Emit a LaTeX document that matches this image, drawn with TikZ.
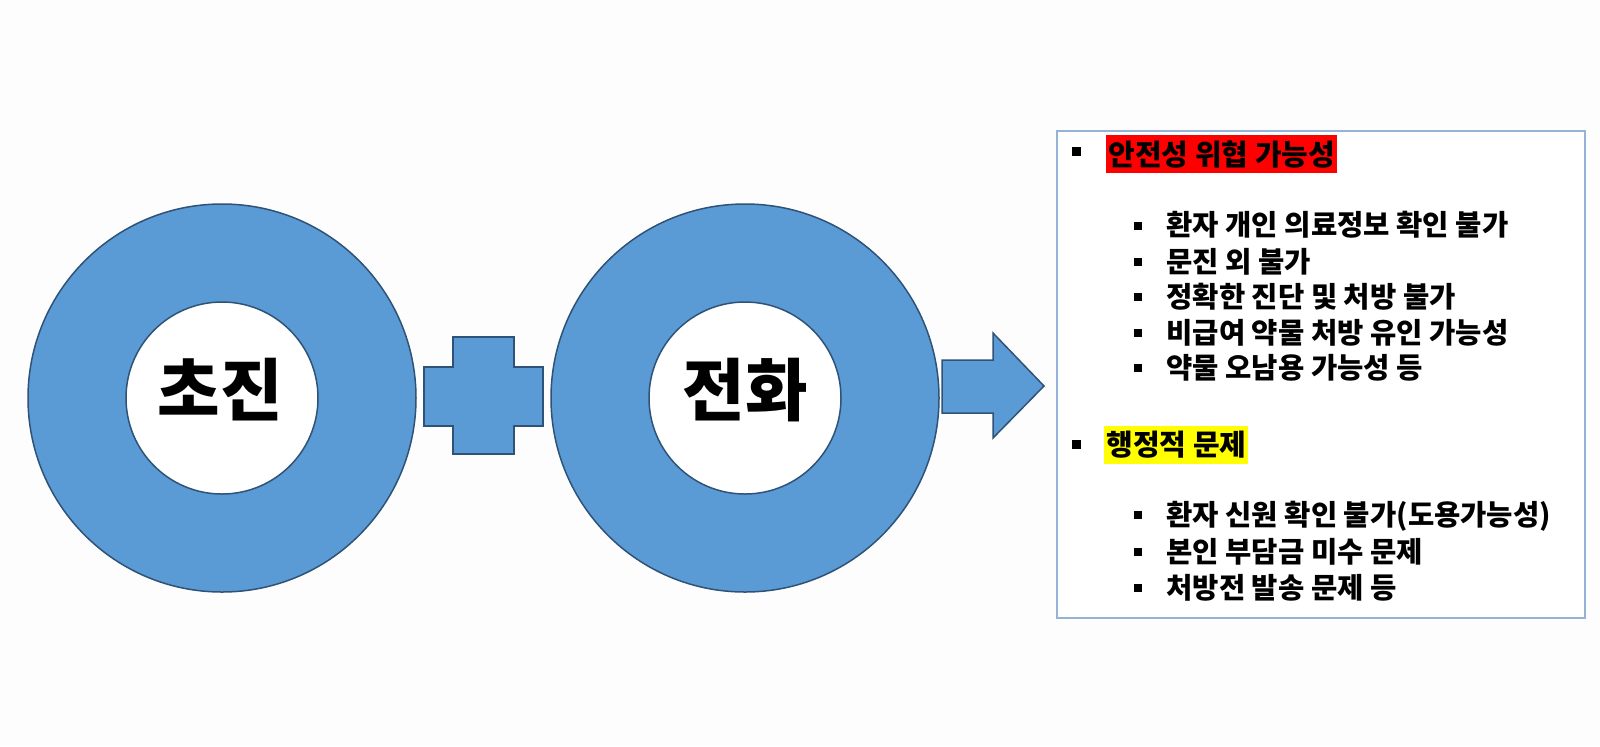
\documentclass[tikz,border=0pt]{standalone}
\usepackage{fontspec}
\newfontfamily\kr{Noto Sans CJK KR}
\newdimen\pxu \pxu=0.5pt
\definecolor{ringfill}{HTML}{5B9BD5}
\definecolor{ringline}{HTML}{2F5277}
\definecolor{boxline}{HTML}{95B3D7}
\definecolor{bg}{HTML}{FDFDFD}
\definecolor{hlred}{HTML}{FF0000}
\definecolor{hlyellow}{HTML}{FFFF00}
\begin{document}
\begin{tikzpicture}[x=0.5pt,y=-0.5pt,
  ring/.style={circle, draw=ringline, fill=ringfill, line width=0.75pt, inner sep=0, minimum size=388\pxu},
  hole/.style={circle, draw=ringline, fill=white, line width=0.75pt, inner sep=0, minimum size=192\pxu},
  shapeblue/.style={draw=ringline, fill=ringfill, line width=0.75pt, line join=miter},
  bigtext/.style={font=\kr\bfseries\fontsize{34}{40}\selectfont, inner sep=0},
  bul/.style={rectangle, fill=black, inner sep=0, minimum size=9\pxu},
  subbul/.style={rectangle, fill=black, inner sep=0, minimum size=8\pxu},
  hl/.style={anchor=north west, inner xsep=2\pxu, inner ysep=0, minimum height=38\pxu, font=\kr\bfseries\fontsize{14.5}{16}\selectfont},
  subtext/.style={anchor=base west, inner sep=0, font=\kr\bfseries\fontsize{14.3}{16}\selectfont},
  panel/.style={draw=boxline, fill=white, line width=0.8pt, inner sep=0, anchor=north west}
]
\useasboundingbox (0,0) rectangle (1600,746);
\fill[bg] (0,0) rectangle (1600,746);

% first ring
\node[ring] (r1) at (222,398) {};
\node[hole] (c1) at (222,398) {};
\node[bigtext] (t1) at (220,390) {초진};

% plus
\draw[shapeblue] (424,367) -- (453,367) -- (453,337) -- (514,337) -- (514,367) -- (543,367)
  -- (543,426) -- (514,426) -- (514,454) -- (453,454) -- (453,426) -- (424,426) -- cycle;

% second ring
\node[ring] (r2) at (745,398) {};
\node[hole] (c2) at (745,398) {};
\node[bigtext] (t2) at (745,390) {전화};

% arrow
\draw[shapeblue] (942,360) -- (993,360) -- (993,333) -- (1044,386) -- (993,438) -- (993,413) -- (942,413) -- cycle;

% panel
\node[panel, minimum width=528\pxu, minimum height=487\pxu] (box) at (1056,130) {};

\node[bul] (b1) at (1076.5,151.5) {};
\node[hl, fill=hlred] (h1) at (1106,135) {안전성 위협 가능성};

\node[subbul] (s1b) at (1138,225.5) {};
\node[subtext] (s1) at (1166,235.5) {환자 개인 의료정보 확인 불가};
\node[subbul] (s2b) at (1138,262) {};
\node[subtext] (s2) at (1166,272) {문진 외 불가};
\node[subbul] (s3b) at (1138,297) {};
\node[subtext] (s3) at (1166,307) {정확한 진단 및 처방 불가};
\node[subbul] (s4b) at (1138,333) {};
\node[subtext] (s4) at (1166,343) {비급여 약물 처방 유인 가능성};
\node[subbul] (s5b) at (1138,368) {};
\node[subtext] (s5) at (1166,378) {약물 오남용 가능성 등};

\node[bul] (b2) at (1076.5,444.5) {};
\node[hl, fill=hlyellow] (h2) at (1104,425.5) {행정적 문제};

\node[subbul] (s6b) at (1138,515) {};
\node[subtext] (s6) at (1166,525) {환자 신원 확인 불가(도용가능성)};
\node[subbul] (s7b) at (1138,552) {};
\node[subtext] (s7) at (1166,562) {본인 부담금 미수 문제};
\node[subbul] (s8b) at (1138,588) {};
\node[subtext] (s8) at (1166,598) {처방전 발송 문제 등};
\end{tikzpicture}
\end{document}
